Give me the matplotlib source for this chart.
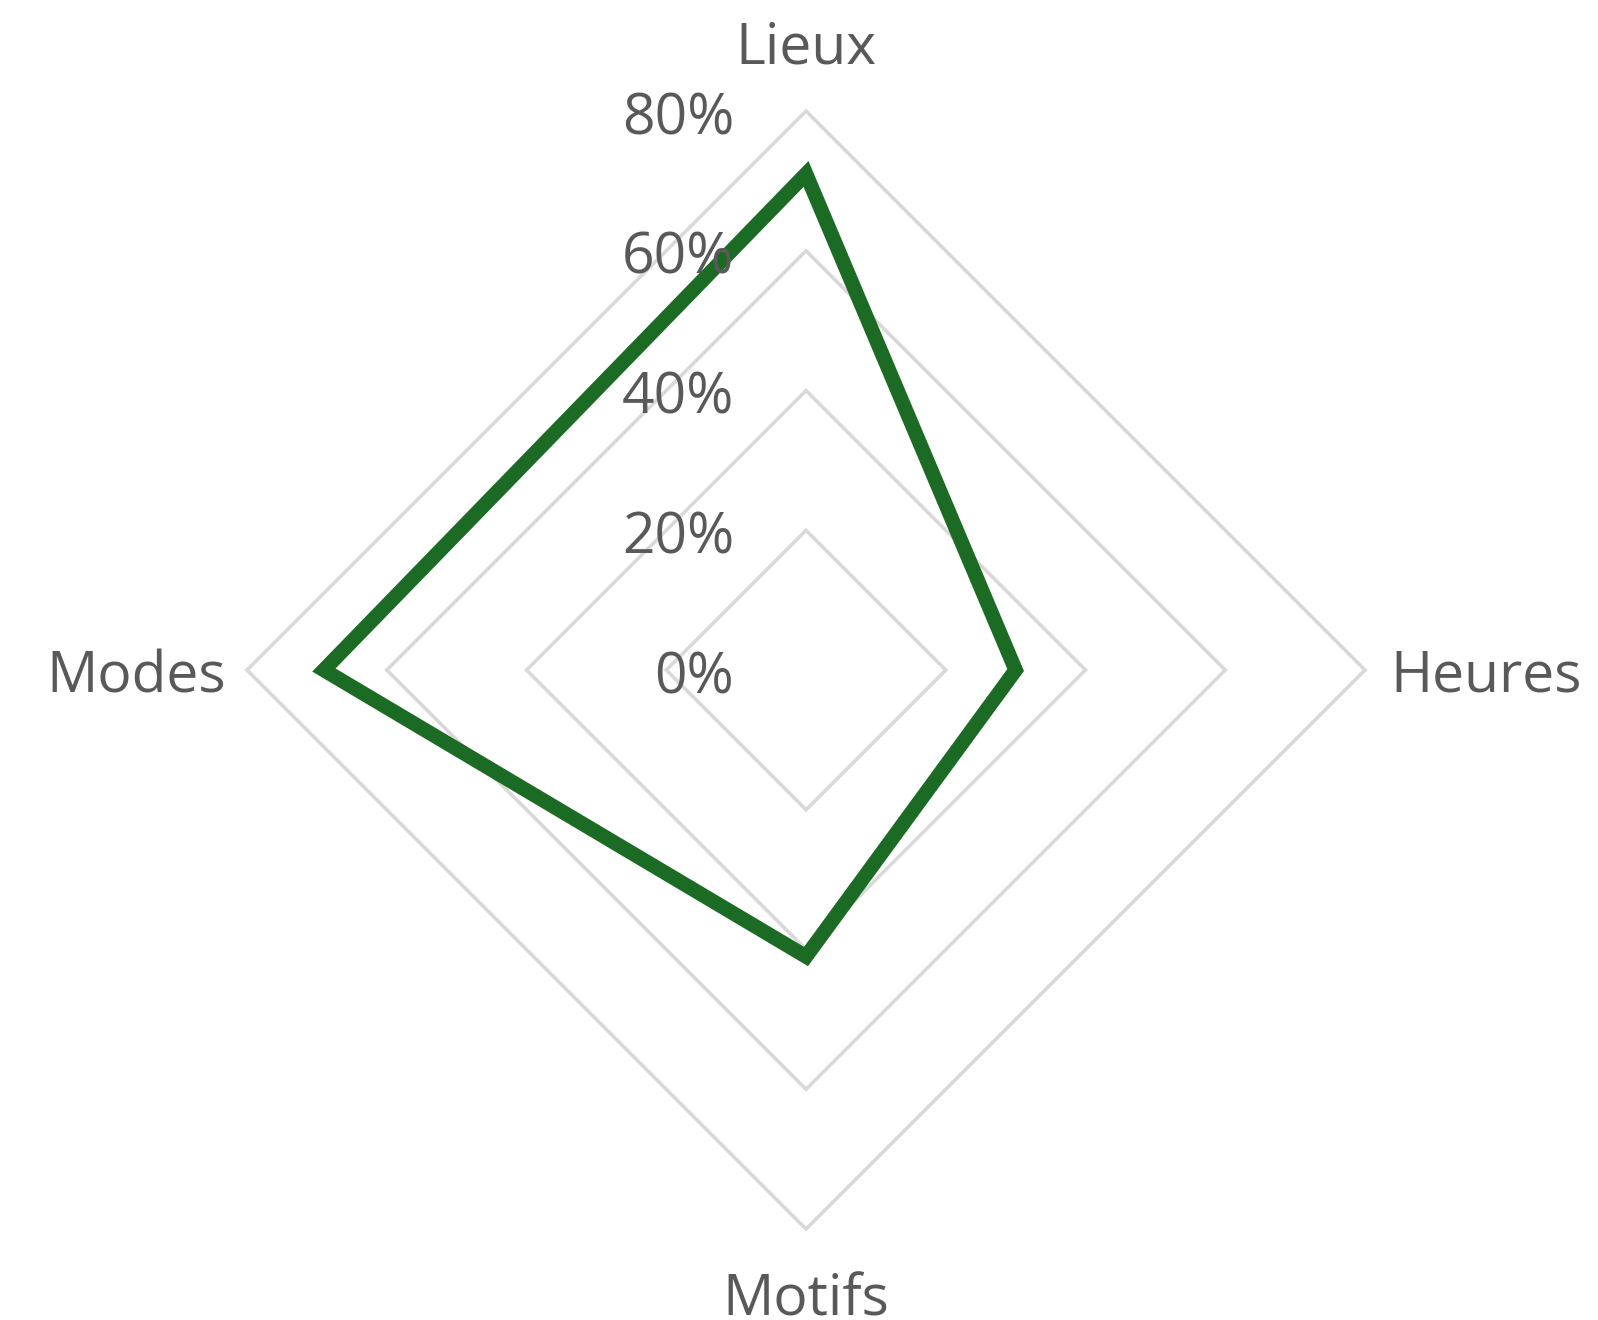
import numpy as np
import matplotlib.pyplot as plt

# radar chart: share per dimension
categories = ["Lieux", "Heures", "Motifs", "Modes"]
values = [71, 30, 41, 69]
ring_levels = [20, 40, 60, 80]
tick_values = [0, 20, 40, 60, 80]
tick_labels = ["0%", "20%", "40%", "60%", "80%"]

GREEN = "#1b6b24"
GRID = "#d9d9d9"
TEXT = "#595959"
PT = 0.72  # points per pixel at dpi 100

plt.rcParams['font.family'] = ['Open Sans', 'DejaVu Sans']

fig = plt.figure(figsize=(15.98, 13.2), dpi=100)
ax = fig.add_axes([0.1546, 0.0689, 0.6996, 0.847], projection='polar')
ax.set_theta_zero_location('N')
ax.set_theta_direction(-1)
ax.set_ylim(0, 80)
ax.grid(False)
ax.spines['polar'].set_visible(False)
ax.set_xticks([])
ax.set_yticks([])
ax.patch.set_alpha(0)

angles = np.linspace(0, 2 * np.pi, len(categories), endpoint=False)

# diamond gridlines (closed polygons so the corners join cleanly)
for level in ring_levels:
    ax.fill(angles, [level] * len(angles), fill=False, edgecolor=GRID,
            lw=2.6, zorder=1, clip_on=False, joinstyle='miter')

# data series
ax.fill(angles, values, fill=False, edgecolor=GREEN, lw=10.5,
        zorder=3, clip_on=False, joinstyle='miter')

# radial tick labels, left of the top spoke
for v, lab in zip(tick_values, tick_labels):
    ax.annotate(lab, xy=(0, v), xytext=(-72 * PT, -23 * PT),
                textcoords='offset points', ha='right', va='baseline',
                fontsize=41, color=TEXT, annotation_clip=False)

# category labels
offsets = {
    "Lieux": ((0, 48), 'center'),
    "Heures": ((25, -21), 'left'),
    "Motifs": ((0, -86), 'center'),
    "Modes": ((-21, -22), 'right'),
}
for ang, cat in zip(angles, categories):
    (dx, dy), ha = offsets[cat]
    ax.annotate(cat, xy=(ang, 80), xytext=(dx * PT, dy * PT),
                textcoords='offset points', ha=ha, va='baseline',
                fontsize=41, color=TEXT, annotation_clip=False)

fig.savefig("out.png", dpi=100, facecolor='white')
